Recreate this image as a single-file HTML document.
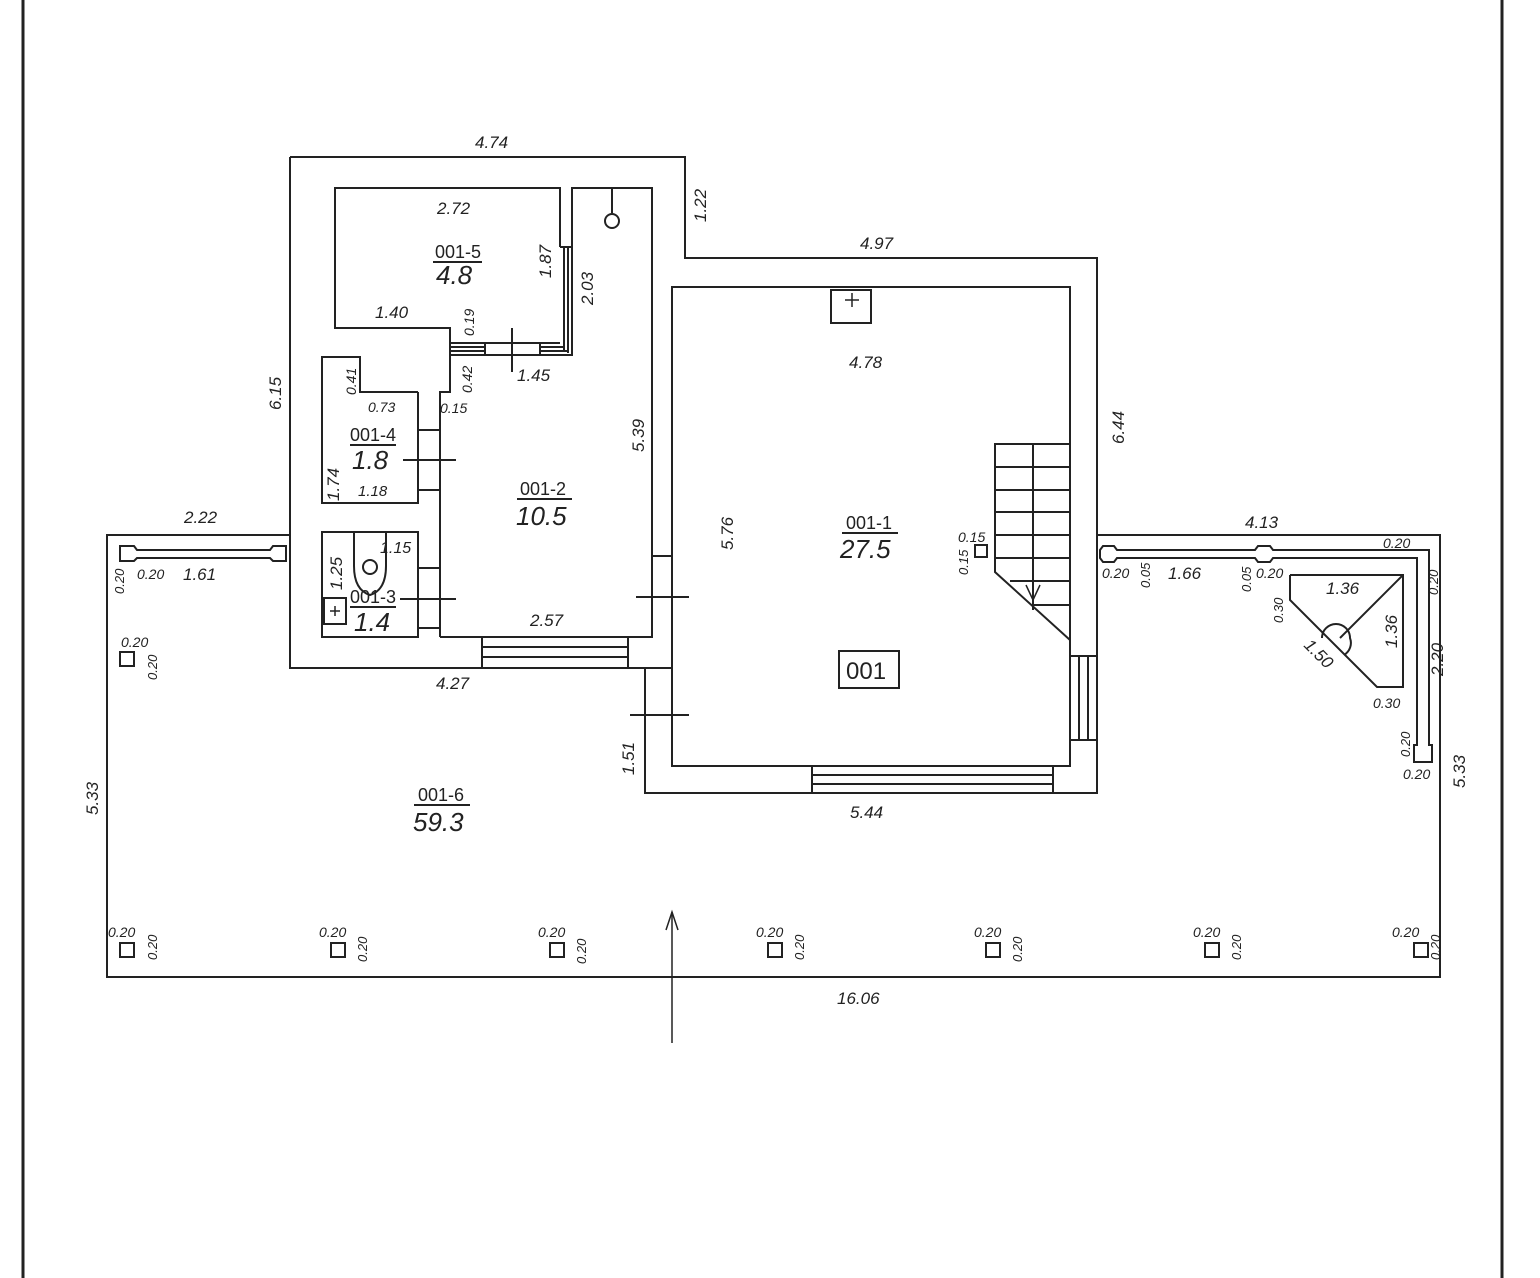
<!DOCTYPE html>
<html><head><meta charset="utf-8"><style>
html,body{margin:0;padding:0;background:#fff;}
svg{display:block}
text{font-family:"Liberation Sans",sans-serif;font-style:italic;fill:#222;}
</style></head><body>
<svg width="1540" height="1278" viewBox="0 0 1540 1278" xmlns="http://www.w3.org/2000/svg">
<g stroke="#222" stroke-width="2" fill="none">
<!-- page frame -->
<line x1="23" y1="0" x2="23" y2="1278" stroke-width="3"/>
<line x1="1502" y1="0" x2="1502" y2="1278" stroke-width="3"/>
<!-- terrace -->
<polyline points="290,535 107,535 107,977 1440,977 1440,535 1097,535"/>
<!-- building outer -->
<polyline points="290,157 685,157 685,258 1097,258 1097,793 645,793 645,668 290,668 290,157"/>
<!-- room 001-1 -->
<rect x="672" y="287" width="398" height="479"/>
<line x1="652" y1="556" x2="672" y2="556"/>
<line x1="645" y1="668" x2="672" y2="668"/>
<!-- bottom window -->
<line x1="812" y1="766" x2="812" y2="793"/><line x1="1053" y1="766" x2="1053" y2="793"/>
<line x1="812" y1="775" x2="1053" y2="775"/><line x1="812" y1="784" x2="1053" y2="784"/>
<!-- right door -->
<line x1="1070" y1="656" x2="1097" y2="656"/><line x1="1070" y1="740" x2="1097" y2="740"/>
<line x1="1079" y1="656" x2="1079" y2="740"/><line x1="1088" y1="656" x2="1088" y2="740"/>
<!-- left window lower -->
<line x1="482" y1="637" x2="482" y2="668"/><line x1="628" y1="637" x2="628" y2="668"/>
<line x1="482" y1="647" x2="628" y2="647"/><line x1="482" y1="657" x2="628" y2="657"/>
<!-- room 001-5 -->
<polyline points="450,355 450,328 335,328 335,188 560,188 560,247"/>
<!-- corridor 001-2 -->
<polyline points="440,637 440,392 450,392 450,355 572,355 572,188 652,188 652,637 440,637"/>
<line x1="560" y1="247" x2="572" y2="247"/>
<line x1="564" y1="247" x2="564" y2="351"/><line x1="568" y1="247" x2="568" y2="353"/>
<line x1="450" y1="343" x2="560" y2="343"/><line x1="450" y1="347" x2="564" y2="347"/><line x1="450" y1="351" x2="568" y2="351"/>
<rect x="485" y="343" width="55" height="12" fill="#fff"/>
<line x1="512" y1="328" x2="512" y2="372"/>
<line x1="612" y1="188" x2="612" y2="213"/><circle cx="612" cy="221" r="7"/>
<!-- 001-4 -->
<polyline points="418,392 360,392 360,357 322,357 322,503 418,503 418,392"/>
<line x1="418" y1="430" x2="440" y2="430"/><line x1="418" y1="490" x2="440" y2="490"/>
<line x1="403" y1="460" x2="456" y2="460"/>
<!-- 001-3 -->
<rect x="322" y="532" width="96" height="105"/>
<line x1="418" y1="568" x2="440" y2="568"/><line x1="418" y1="628" x2="440" y2="628"/>
<line x1="400" y1="599" x2="456" y2="599"/>
<path d="M354,532 L386,532 L386,566 Q386,590 370,595 Q354,590 354,566 Z"/>
<circle cx="370" cy="567" r="7"/>
<rect x="324" y="598" width="22" height="26"/>
<line x1="330" y1="611" x2="340" y2="611" stroke-width="1.5"/><line x1="335" y1="606" x2="335" y2="616" stroke-width="1.5"/>
<!-- door ticks -->
<line x1="636" y1="597" x2="689" y2="597"/>
<line x1="630" y1="715" x2="689" y2="715"/>
<!-- box in 001-1 -->
<rect x="831" y="290" width="40" height="33"/>
<line x1="845" y1="300" x2="859" y2="300" stroke-width="1.5"/><line x1="852" y1="293" x2="852" y2="307" stroke-width="1.5"/>
<rect x="839" y="651" width="60" height="37"/>
<!-- stairs -->
<polyline points="1070,444 995,444 995,572 1070,640"/>
<line x1="1033" y1="444" x2="1033" y2="610"/>
<line x1="995" y1="467" x2="1070" y2="467"/><line x1="995" y1="490" x2="1070" y2="490"/>
<line x1="995" y1="512" x2="1070" y2="512"/><line x1="995" y1="535" x2="1070" y2="535"/>
<line x1="995" y1="558" x2="1070" y2="558"/><line x1="1010" y1="581" x2="1070" y2="581"/>
<line x1="1033" y1="605" x2="1070" y2="605"/>
<polyline points="1026,585 1033,600 1040,585" stroke-width="1.5"/>
<rect x="975" y="545" width="12" height="12"/>
<!-- left rail -->
<path d="M120,546 L134,546 L137,550 L270,550 L273,546 L286,546 L286,561 L273,561 L270,558 L137,558 L134,561 L120,561 Z"/>
<!-- right rail -->
<path d="M1100,550 L1103,546 L1114,546 L1117,550 L1255,550 L1258,546 L1270,546 L1273,550 L1429,550 L1429,745 L1432,745 L1432,762 L1414,762 L1414,745 L1417,745 L1417,558 L1273,558 L1270,562 L1258,562 L1255,558 L1117,558 L1114,562 L1103,562 L1100,558 Z"/>
<!-- triangle fixture -->
<polyline points="1290,575 1403,575 1403,687 1377,687 1290,600 1290,575"/>
<line x1="1403" y1="575" x2="1340" y2="638"/>
<path d="M1322,638 A14,14 0 0 1 1350,638 A14 14 0 0 1 1344,655"/>
<!-- posts -->
<rect x="120" y="652" width="14" height="14"/>
<rect x="120" y="943" width="14" height="14"/>
<rect x="331" y="943" width="14" height="14"/>
<rect x="550" y="943" width="14" height="14"/>
<rect x="768" y="943" width="14" height="14"/>
<rect x="986" y="943" width="14" height="14"/>
<rect x="1205" y="943" width="14" height="14"/>
<rect x="1414" y="943" width="14" height="14"/>
<!-- entrance arrow -->
<line x1="672" y1="912" x2="672" y2="1043" stroke-width="1.5"/>
<polyline points="666,930 672,912 678,930" stroke-width="1.5"/>
<!-- underlines -->
<line x1="433" y1="262" x2="482" y2="262"/>
<line x1="350" y1="445" x2="396" y2="445"/>
<line x1="350" y1="607" x2="396" y2="607"/>
<line x1="517" y1="499" x2="572" y2="499"/>
<line x1="842" y1="533" x2="898" y2="533"/>
<line x1="414" y1="805" x2="470" y2="805"/>
</g>
<g font-size="17">
<text x="475" y="148">4.74</text>
<text x="437" y="214">2.72</text>
<text x="375" y="318">1.40</text>
<text x="517" y="381">1.45</text>
<text x="530" y="626">2.57</text>
<text x="436" y="689">4.27</text>
<text x="860" y="249">4.97</text>
<text x="849" y="368">4.78</text>
<text x="850" y="818">5.44</text>
<text x="837" y="1004">16.06</text>
<text x="184" y="523">2.22</text>
<text x="183" y="580">1.61</text>
<text x="1245" y="528">4.13</text>
<text x="1168" y="579">1.66</text>
<text x="1326" y="594">1.36</text>
<text x="368" y="412" font-size="14">0.73</text>
<text x="358" y="496" font-size="15">1.18</text>
<text x="380" y="553" font-size="16">1.15</text>
<text x="440" y="413" font-size="14">0.15</text>
<text x="958" y="542" font-size="14">0.15</text>
<text x="1383" y="548" font-size="14">0.20</text>
<text x="1102" y="578" font-size="14">0.20</text>
<text x="1256" y="578" font-size="14">0.20</text>
<text x="137" y="579" font-size="14">0.20</text>
<text x="1373" y="708" font-size="14">0.30</text>
<text x="1403" y="779" font-size="14">0.20</text>
<text x="121" y="647" font-size="14">0.20</text>
<text x="108" y="937" font-size="14">0.20</text>
<text x="319" y="937" font-size="14">0.20</text>
<text x="538" y="937" font-size="14">0.20</text>
<text x="756" y="937" font-size="14">0.20</text>
<text x="974" y="937" font-size="14">0.20</text>
<text x="1193" y="937" font-size="14">0.20</text>
<text x="1392" y="937" font-size="14">0.20</text>
</g>
<g font-size="17">
<text transform="translate(706,222) rotate(-90)">1.22</text>
<text transform="translate(281,410) rotate(-90)">6.15</text>
<text transform="translate(551,278) rotate(-90)">1.87</text>
<text transform="translate(593,305) rotate(-90)">2.03</text>
<text transform="translate(644,452) rotate(-90)">5.39</text>
<text transform="translate(733,550) rotate(-90)">5.76</text>
<text transform="translate(1124,444) rotate(-90)">6.44</text>
<text transform="translate(634,775) rotate(-90)">1.51</text>
<text transform="translate(98,815) rotate(-90)">5.33</text>
<text transform="translate(1465,788) rotate(-90)">5.33</text>
<text transform="translate(1443,676) rotate(-90)">2.20</text>
<text transform="translate(1397,648) rotate(-90)">1.36</text>
<text transform="translate(1303,646) rotate(45)">1.50</text>
<text transform="translate(339,501) rotate(-90)">1.74</text>
<text transform="translate(342,590) rotate(-90)">1.25</text>
<text transform="translate(356,395) rotate(-90)" font-size="14">0.41</text>
<text transform="translate(474,336) rotate(-90)" font-size="14">0.19</text>
<text transform="translate(472,393) rotate(-90)" font-size="14">0.42</text>
<text transform="translate(968,575) rotate(-90)" font-size="13">0.15</text>
<text transform="translate(1150,588) rotate(-90)" font-size="13">0.05</text>
<text transform="translate(1251,592) rotate(-90)" font-size="13">0.05</text>
<text transform="translate(1283,623) rotate(-90)" font-size="13">0.30</text>
<text transform="translate(1438,595) rotate(-90)" font-size="13">0.20</text>
<text transform="translate(1410,757) rotate(-90)" font-size="13">0.20</text>
<text transform="translate(124,594) rotate(-90)" font-size="13">0.20</text>
<text transform="translate(157,680) rotate(-90)" font-size="13">0.20</text>
<text transform="translate(157,960) rotate(-90)" font-size="13">0.20</text>
<text transform="translate(367,962) rotate(-90)" font-size="13">0.20</text>
<text transform="translate(586,964) rotate(-90)" font-size="13">0.20</text>
<text transform="translate(804,960) rotate(-90)" font-size="13">0.20</text>
<text transform="translate(1022,962) rotate(-90)" font-size="13">0.20</text>
<text transform="translate(1241,960) rotate(-90)" font-size="13">0.20</text>
<text transform="translate(1440,960) rotate(-90)" font-size="13">0.20</text>
</g>
<g style="font-style:normal">
<text x="435" y="258" font-size="18" style="font-style:normal">001-5</text>
<text x="436" y="284" font-size="26">4.8</text>
<text x="350" y="441" font-size="18" style="font-style:normal">001-4</text>
<text x="352" y="469" font-size="26">1.8</text>
<text x="350" y="603" font-size="18" style="font-style:normal">001-3</text>
<text x="354" y="631" font-size="26">1.4</text>
<text x="520" y="495" font-size="18" style="font-style:normal">001-2</text>
<text x="516" y="525" font-size="26">10.5</text>
<text x="846" y="529" font-size="18" style="font-style:normal">001-1</text>
<text x="840" y="558" font-size="26">27.5</text>
<text x="418" y="801" font-size="18" style="font-style:normal">001-6</text>
<text x="413" y="831" font-size="26">59.3</text>
<text x="846" y="679" font-size="24" style="font-style:normal">001</text>
</g>
</svg>
</body></html>
